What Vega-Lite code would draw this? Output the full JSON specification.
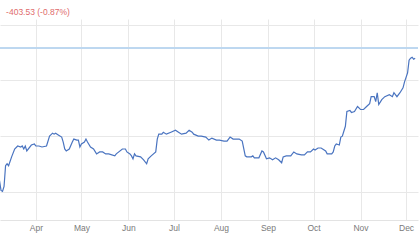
{
  "$schema": "https://vega.github.io/schema/vega-lite/v6.json",
  "width": 419,
  "height": 240,
  "autosize": {"type": "fit", "contains": "padding"},
  "padding": {"left": -3, "right": 0, "top": 7, "bottom": 8},
  "background": "#ffffff",
  "config": {"view": {"stroke": null}, "font": "Liberation Sans"},
  "title": {"text": "-403.53 (-0.87%)", "anchor": "start", "fontSize": 8.5, "fontWeight": "normal", "color": "#e06b6b", "dx": 9, "offset": 3, "font": "Liberation Sans"},
  "data": {"values": [
    {"date": "2024-03-08", "price": 41414},
    {"date": "2024-03-09", "price": 41060},
    {"date": "2024-03-10", "price": 41025},
    {"date": "2024-03-11", "price": 41202},
    {"date": "2024-03-12", "price": 41944},
    {"date": "2024-03-13", "price": 42014},
    {"date": "2024-03-14", "price": 41944},
    {"date": "2024-03-16", "price": 42262},
    {"date": "2024-03-18", "price": 42544},
    {"date": "2024-03-20", "price": 42651},
    {"date": "2024-03-22", "price": 42615},
    {"date": "2024-03-23", "price": 42651},
    {"date": "2024-03-24", "price": 42544},
    {"date": "2024-03-25", "price": 42651},
    {"date": "2024-03-26", "price": 42474},
    {"date": "2024-03-29", "price": 42686},
    {"date": "2024-03-31", "price": 42721},
    {"date": "2024-04-01", "price": 42651},
    {"date": "2024-04-03", "price": 42651},
    {"date": "2024-04-05", "price": 42615},
    {"date": "2024-04-08", "price": 42651},
    {"date": "2024-04-10", "price": 43004},
    {"date": "2024-04-12", "price": 43110},
    {"date": "2024-04-13", "price": 43075},
    {"date": "2024-04-14", "price": 43110},
    {"date": "2024-04-16", "price": 43039},
    {"date": "2024-04-18", "price": 42969},
    {"date": "2024-04-19", "price": 42792},
    {"date": "2024-04-20", "price": 42544},
    {"date": "2024-04-21", "price": 42474},
    {"date": "2024-04-23", "price": 42544},
    {"date": "2024-04-25", "price": 42792},
    {"date": "2024-04-26", "price": 42898},
    {"date": "2024-04-28", "price": 42863},
    {"date": "2024-04-29", "price": 42863},
    {"date": "2024-04-30", "price": 42615},
    {"date": "2024-05-01", "price": 42721},
    {"date": "2024-05-03", "price": 42792},
    {"date": "2024-05-04", "price": 42898},
    {"date": "2024-05-05", "price": 42792},
    {"date": "2024-05-07", "price": 42615},
    {"date": "2024-05-09", "price": 42544},
    {"date": "2024-05-11", "price": 42368},
    {"date": "2024-05-13", "price": 42438},
    {"date": "2024-05-15", "price": 42438},
    {"date": "2024-05-17", "price": 42368},
    {"date": "2024-05-19", "price": 42368},
    {"date": "2024-05-23", "price": 42297},
    {"date": "2024-05-24", "price": 42368},
    {"date": "2024-05-28", "price": 42544},
    {"date": "2024-05-30", "price": 42544},
    {"date": "2024-05-31", "price": 42438},
    {"date": "2024-06-02", "price": 42368},
    {"date": "2024-06-03", "price": 42297},
    {"date": "2024-06-04", "price": 42191},
    {"date": "2024-06-05", "price": 42368},
    {"date": "2024-06-06", "price": 42297},
    {"date": "2024-06-09", "price": 42262},
    {"date": "2024-06-11", "price": 42156},
    {"date": "2024-06-13", "price": 42014},
    {"date": "2024-06-14", "price": 42191},
    {"date": "2024-06-16", "price": 42297},
    {"date": "2024-06-19", "price": 42438},
    {"date": "2024-06-20", "price": 42898},
    {"date": "2024-06-21", "price": 43075},
    {"date": "2024-06-23", "price": 43075},
    {"date": "2024-06-24", "price": 43145},
    {"date": "2024-06-26", "price": 43075},
    {"date": "2024-06-29", "price": 43145},
    {"date": "2024-07-02", "price": 43216},
    {"date": "2024-07-04", "price": 43145},
    {"date": "2024-07-06", "price": 43075},
    {"date": "2024-07-09", "price": 43110},
    {"date": "2024-07-11", "price": 43216},
    {"date": "2024-07-13", "price": 43145},
    {"date": "2024-07-14", "price": 43075},
    {"date": "2024-07-17", "price": 43004},
    {"date": "2024-07-19", "price": 43004},
    {"date": "2024-07-22", "price": 42969},
    {"date": "2024-07-24", "price": 42863},
    {"date": "2024-07-26", "price": 42933},
    {"date": "2024-07-29", "price": 42863},
    {"date": "2024-07-31", "price": 42863},
    {"date": "2024-08-03", "price": 42827},
    {"date": "2024-08-05", "price": 42827},
    {"date": "2024-08-07", "price": 42969},
    {"date": "2024-08-09", "price": 42898},
    {"date": "2024-08-13", "price": 42898},
    {"date": "2024-08-15", "price": 42827},
    {"date": "2024-08-17", "price": 42297},
    {"date": "2024-08-18", "price": 42262},
    {"date": "2024-08-21", "price": 42262},
    {"date": "2024-08-22", "price": 42297},
    {"date": "2024-08-23", "price": 42226},
    {"date": "2024-08-26", "price": 42226},
    {"date": "2024-08-28", "price": 42474},
    {"date": "2024-08-29", "price": 42438},
    {"date": "2024-08-31", "price": 42191},
    {"date": "2024-09-02", "price": 42226},
    {"date": "2024-09-04", "price": 42156},
    {"date": "2024-09-06", "price": 42226},
    {"date": "2024-09-08", "price": 42156},
    {"date": "2024-09-10", "price": 42050},
    {"date": "2024-09-11", "price": 42262},
    {"date": "2024-09-13", "price": 42297},
    {"date": "2024-09-16", "price": 42297},
    {"date": "2024-09-18", "price": 42438},
    {"date": "2024-09-20", "price": 42368},
    {"date": "2024-09-23", "price": 42332},
    {"date": "2024-09-25", "price": 42332},
    {"date": "2024-09-27", "price": 42438},
    {"date": "2024-09-29", "price": 42438},
    {"date": "2024-10-01", "price": 42544},
    {"date": "2024-10-02", "price": 42509},
    {"date": "2024-10-04", "price": 42580},
    {"date": "2024-10-06", "price": 42580},
    {"date": "2024-10-09", "price": 42474},
    {"date": "2024-10-10", "price": 42368},
    {"date": "2024-10-13", "price": 42368},
    {"date": "2024-10-14", "price": 42438},
    {"date": "2024-10-15", "price": 42651},
    {"date": "2024-10-16", "price": 42721},
    {"date": "2024-10-18", "price": 42686},
    {"date": "2024-10-19", "price": 42969},
    {"date": "2024-10-20", "price": 43004},
    {"date": "2024-10-22", "price": 43357},
    {"date": "2024-10-23", "price": 43887},
    {"date": "2024-10-25", "price": 43923},
    {"date": "2024-10-26", "price": 43852},
    {"date": "2024-10-28", "price": 43887},
    {"date": "2024-10-30", "price": 44064},
    {"date": "2024-11-01", "price": 43958},
    {"date": "2024-11-03", "price": 43958},
    {"date": "2024-11-05", "price": 44064},
    {"date": "2024-11-07", "price": 44170},
    {"date": "2024-11-08", "price": 44418},
    {"date": "2024-11-10", "price": 44418},
    {"date": "2024-11-11", "price": 44241},
    {"date": "2024-11-12", "price": 44559},
    {"date": "2024-11-13", "price": 44135},
    {"date": "2024-11-15", "price": 44311},
    {"date": "2024-11-17", "price": 44418},
    {"date": "2024-11-20", "price": 44488},
    {"date": "2024-11-22", "price": 44418},
    {"date": "2024-11-23", "price": 44559},
    {"date": "2024-11-25", "price": 44418},
    {"date": "2024-11-27", "price": 44559},
    {"date": "2024-11-29", "price": 44736},
    {"date": "2024-11-30", "price": 44948},
    {"date": "2024-12-02", "price": 45266},
    {"date": "2024-12-03", "price": 45725},
    {"date": "2024-12-04", "price": 45796},
    {"date": "2024-12-05", "price": 45831},
    {"date": "2024-12-06", "price": 45760},
    {"date": "2024-12-07", "price": 45796}
  ]},
  "layer": [
    {
      "mark": {"type": "line", "color": "#4a74c0", "strokeWidth": 1.2, "interpolate": "linear"},
      "encoding": {
        "x": {
          "field": "date", "type": "temporal",
          "scale": {"type": "utc", "domain": [{"year": 2024, "month": 3, "date": 8, "hours": 8, "utc": true}, {"year": 2024, "month": 12, "date": 8, "hours": 21, "utc": true}], "nice": false},
          "axis": {
            "title": null, "format": "%b", "tickCount": {"interval": "month", "step": 1},
            "labelFlush": false, "labelColor": "#7a7a7a", "labelFontSize": 8.5, "labelFont": "Liberation Sans",
            "ticks": false, "labelPadding": 3, "domainColor": "#e3e3e3",
            "grid": true, "gridColor": "#e8e8e8", "gridWidth": 1
          }
        },
        "y": {
          "field": "price", "type": "quantitative",
          "scale": {"domain": [40000, 47200], "nice": false, "zero": false},
          "axis": {
            "title": null, "orient": "right", "labels": false, "ticks": false, "domain": false,
            "values": [41000, 42000, 43000, 44000, 45000, 46000, 47000],
            "grid": true, "gridColor": "#e8e8e8", "gridWidth": 1
          }
        }
      }
    },
    {
      "mark": {"type": "rule", "color": "#bdd7f0", "strokeWidth": 1.5},
      "encoding": {"y": {"datum": 46149, "type": "quantitative"}}
    }
  ]
}
